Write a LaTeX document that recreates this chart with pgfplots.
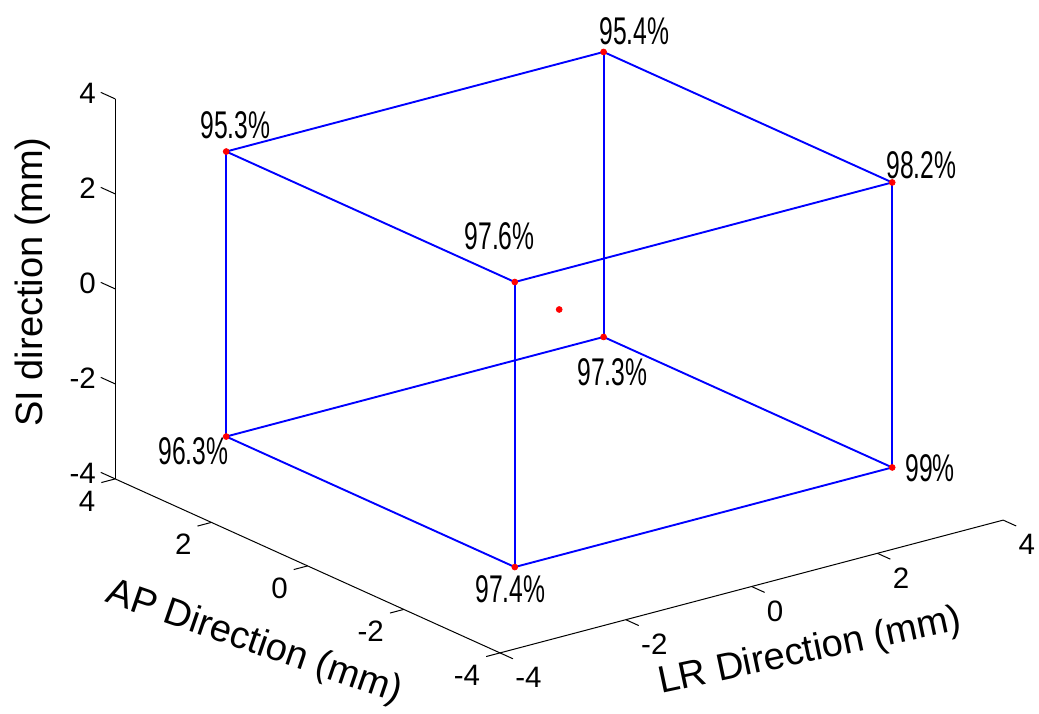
\documentclass[border=0pt]{standalone}
\usepackage{fontspec}
\setmainfont{Liberation Sans}
\usepackage{graphicx}
\usepackage{pgfplots}
\pgfplotsset{compat=1.18}

\newcommand\ticksize{\fontsize{14.75}{16}\selectfont}
\newcommand\labsize{\fontsize{19}{22}\selectfont}
\newcommand\pct[1]{\scalebox{0.64}[1]{\fontsize{19.3}{20}\selectfont #1}}

\begin{document}
\begin{tikzpicture}
\begin{axis}[
  x={(31.45pt,8.3pt)}, y={(-24.05pt,10.875pt)}, z={(0pt,23.75pt)},
  xmin=-4, xmax=4, ymin=-4, ymax=4, zmin=-4, zmax=4,
  hide axis, clip=false,
]
% axis lines
\draw[black, line width=0.5pt] (axis cs:-4,-4,-4) -- (axis cs:4,-4,-4);
\draw[black, line width=0.5pt] (axis cs:-4,4,-4) -- (axis cs:-4,-4,-4);
\draw[black, line width=0.5pt] (axis cs:-4,4,-4) -- (axis cs:-4,4,4);
% ticks and tick labels
\pgfplotsinvokeforeach{-4,-2,0,2,4}{
  \draw[black, line width=0.5pt] (axis cs:#1,-4,-4) -- (axis cs:#1,-4.27,-4);
  \draw[black, line width=0.5pt] (axis cs:-4,#1,-4) -- (axis cs:-4.22,#1,-4);
  \draw[black, line width=0.5pt] (axis cs:-4,4,#1) -- (axis cs:-4,4.3,#1);
  \node[anchor=west, inner sep=0pt, font=\ticksize, xshift=7.5pt, yshift=-12.25pt] at (axis cs:#1,-4,-4) {#1};
  \node[anchor=east, inner sep=0pt, font=\ticksize, xshift=-9.75pt, yshift=-11pt] at (axis cs:-4,#1,-4) {#1};
  \node[anchor=east, inner sep=0pt, font=\ticksize, xshift=-9.5pt, yshift=3pt] at (axis cs:-4,4,#1) {#1};
}
% cube edges: bottom face, top face, then the four vertical edges
\pgfplotsset{cube/.style={color={rgb,255:red,0;green,0;blue,255}, line width=0.95pt, no marks}}
\addplot3[cube] coordinates {(-3,-3,-3) (3,-3,-3) (3,3,-3) (-3,3,-3) (-3,-3,-3)};
\addplot3[cube] coordinates {(-3,-3,3) (3,-3,3) (3,3,3) (-3,3,3) (-3,-3,3)};
\addplot3[cube] coordinates {(-3,-3,-3) (-3,-3,3)};
\addplot3[cube] coordinates {(3,-3,-3) (3,-3,3)};
\addplot3[cube] coordinates {(-3,3,-3) (-3,3,3)};
\addplot3[cube] coordinates {(3,3,-3) (3,3,3)};
% measured positions
\addplot3[only marks, mark=*, mark size=1.45pt, red, mark options={draw=red, fill=red}] coordinates {
  (-3,-3,-3) (3,-3,-3) (3,3,-3) (-3,3,-3)
  (-3,-3,3) (3,-3,3) (3,3,3) (-3,3,3) (0,0,0)};
% percentages at the corners
\node[anchor=base west, inner sep=0pt, xshift=-2.3pt, yshift=3.5pt] at (axis cs:3,3,3) {\pct{95.4\%}};
\node[anchor=base west, inner sep=0pt, xshift=-3.1pt, yshift=1.75pt] at (axis cs:3,-3,3) {\pct{98.2\%}};
\node[anchor=base west, inner sep=0pt, xshift=6.4pt, yshift=-7.25pt] at (axis cs:3,-3,-3) {\pct{99\%}};
\node[anchor=base west, inner sep=0pt, xshift=-13.1pt, yshift=6.3pt] at (axis cs:-3,3,3) {\pct{95.3\%}};
\node[anchor=base west, inner sep=0pt, xshift=-34.1pt, yshift=-14.2pt] at (axis cs:-3,3,-3) {\pct{96.3\%}};
\node[anchor=base west, inner sep=0pt, xshift=-19.9pt, yshift=-17.9pt] at (axis cs:-3,-3,-3) {\pct{97.4\%}};
\node[anchor=base east, inner sep=0pt, xshift=10.1pt, yshift=16.1pt] at (axis cs:-3,-3,3) {\pct{97.6\%}};
\node[anchor=base west, inner sep=0pt, xshift=-13.3pt, yshift=-24.5pt] at (axis cs:3,3,-3) {\pct{97.3\%}};
\coordinate (O) at (axis cs:0,0,0);
\end{axis}
\pgfresetboundingbox
\begin{scope}[shift={(O)}, x=0.5pt, y=-0.5pt, shift={(-559.2,-309.5)}]
  \path[use as bounding box] (0,0) rectangle (1039,713);
  \node[rotate=90, font=\labsize] at (32.5,282) {SI direction (mm)};
  \node[rotate=-19, font=\labsize] at (254,643) {AP Direction (mm)};
  \node[rotate=12, font=\labsize] at (810,652) {LR Direction (mm)};
\end{scope}
\end{tikzpicture}
\end{document}
